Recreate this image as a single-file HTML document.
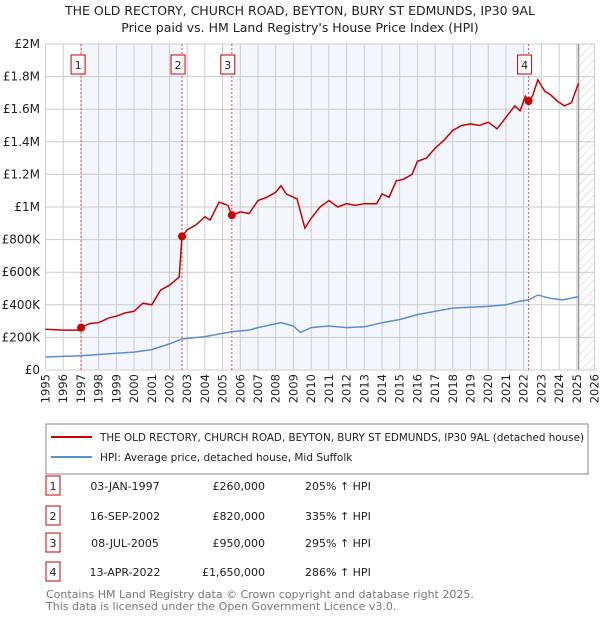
<!DOCTYPE html>
<html><head><meta charset="utf-8"><style>
body{margin:0;background:#fff;font-family:"Liberation Sans","DejaVu Sans",sans-serif;}
svg text{font-family:"DejaVu Sans","Liberation Sans",sans-serif;}
</style></head><body>
<svg id="c" width="600" height="620" xmlns="http://www.w3.org/2000/svg">
<defs><pattern id="hatch" width="6" height="6" patternUnits="userSpaceOnUse" patternTransform="rotate(45)"><line x1="0" y1="0" x2="0" y2="6" stroke="#ccc" stroke-width="1"/></pattern></defs>
<text x="300" y="15" text-anchor="middle" font-size="12.5" fill="#222">THE OLD RECTORY, CHURCH ROAD, BEYTON, BURY ST EDMUNDS, IP30 9AL</text>
<text x="300" y="32" text-anchor="middle" font-size="12.5" fill="#222">Price paid vs. HM Land Registry's House Price Index (HPI)</text>
<g id="plot"></g>
<rect x="46" y="424" width="542" height="50" fill="#fff" stroke="#888"/>
<line x1="51" y1="437" x2="92" y2="437" stroke="#cc0000" stroke-width="2"/>
<text x="100" y="441" font-size="10.5" textLength="484" lengthAdjust="spacingAndGlyphs" fill="#222">THE OLD RECTORY, CHURCH ROAD, BEYTON, BURY ST EDMUNDS, IP30 9AL (detached house)</text>
<line x1="51" y1="457" x2="92" y2="457" stroke="#5b8fd4" stroke-width="2"/>
<text x="100" y="461" font-size="10.5" fill="#222">HPI: Average price, detached house, Mid Suffolk</text>
<g id="table" font-size="11" fill="#222"></g>
<text x="46" y="598" font-size="11" fill="#777">Contains HM Land Registry data © Crown copyright and database right 2025.</text>
<text x="46" y="610" font-size="11" fill="#777">This data is licensed under the Open Government Licence v3.0.</text>
</svg>
<script>
const redYears=[1995,1996,1996.9,1997.0,1997.5,1998,1998.6,1999,1999.5,2000,2000.5,2001,2001.5,2002,2002.55,2002.71,2003,2003.5,2004,2004.3,2004.8,2005.3,2005.52,2006,2006.5,2007,2007.5,2008,2008.3,2008.6,2009.2,2009.45,2009.65,2010,2010.5,2011,2011.5,2012,2012.5,2013,2013.7,2014,2014.4,2014.8,2015.2,2015.7,2016,2016.5,2017,2017.5,2018,2018.5,2019,2019.5,2020,2020.5,2021,2021.5,2021.8,2022.1,2022.28,2022.5,2022.8,2023.2,2023.5,2023.9,2024.3,2024.7,2024.9,2025.1];
const redValues=[250,245,245,260,285,290,320,330,350,360,410,400,490,520,570,820,860,890,940,920,1030,1010,950,970,960,1040,1060,1090,1130,1080,1050,950,870,930,1000,1040,1000,1020,1010,1020,1020,1080,1060,1160,1170,1200,1280,1300,1360,1410,1470,1500,1510,1500,1520,1480,1550,1620,1590,1680,1650,1680,1780,1710,1690,1650,1620,1640,1700,1760];
const hpiYears=[1995,1997,1998,2000,2001,2002,2002.7,2004,2005.5,2006.5,2007,2008.3,2009,2009.4,2010,2011,2012,2013,2014,2015,2016,2017,2018,2019,2020,2021,2021.7,2022.3,2022.8,2023.5,2024.2,2025.1];
const hpiValues=[80,88,95,110,125,160,190,205,235,245,260,290,270,230,260,270,260,265,290,310,340,360,380,385,390,400,420,430,460,440,430,450];
const saleYears=[1997.01,2002.71,2005.52,2022.28];
const saleValues=[260,820,950,1650];
const saleLabels=["1","2","3","4"];
const saleDates=["03-JAN-1997","16-SEP-2002","08-JUL-2005","13-APR-2022"];
const salePrices=["£260,000","£820,000","£950,000","£1,650,000"];
const saleHpi=["205% ↑ HPI","335% ↑ HPI","295% ↑ HPI","286% ↑ HPI"];
const yTicks=[0,200,400,600,800,1000,1200,1400,1600,1800,2000];
const yTickLabels=["£0","£200K","£400K","£600K","£800K","£1M","£1.2M","£1.4M","£1.6M","£1.8M","£2M"];
const xTicks=[];for(let y=1995;y<=2026;y++)xTicks.push(y);

const NS="http://www.w3.org/2000/svg";
const X0=45.5,X1=594.5,Y0=370,Y1=44;
const xs=v=>X0+(v-1995)/(2026-1995)*(X1-X0);
const ys=v=>Y0-v/2000*(Y0-Y1);
const plot=document.getElementById('plot');
function mk(tag,attrs,parent){const e=document.createElementNS(NS,tag);for(const k in attrs)e.setAttribute(k,attrs[k]);(parent||plot).appendChild(e);return e;}
for(let i=0;i<saleYears.length;i+=2){
 const a=xs(saleYears[i]),b=i+1<saleYears.length?xs(saleYears[i+1]):xs(2025.1);
 const r=mk('rect',{x:a,y:Y1,width:b-a,height:Y0-Y1,fill:'#f3f6fd'});
 
 
}
const h=mk('rect',{x:xs(2025.1),y:Y1,width:X1-xs(2025.1),height:Y0-Y1,fill:'url(#hatch)'});


xTicks.forEach((t,i)=>{
 const l=mk('line',{x1:xs(t),x2:xs(t),y1:Y1,y2:Y0,stroke:'#ccc','stroke-width':1});
 
 
 const tx=mk('text',{x:0,y:0,'font-size':11.5,fill:'#222','text-anchor':'end',transform:`translate(${xs(t)+4},374) rotate(-90)`});
 tx.textContent=t;
 
 
});
yTicks.forEach((t,i)=>{
 const l=mk('line',{x1:X0,x2:X1,y1:ys(t),y2:ys(t),stroke:'#ccc','stroke-width':1});
 
 
 const tx=mk('text',{x:40,y:ys(t)+4,'font-size':12,fill:'#222','text-anchor':'end'});
 tx.textContent=yTickLabels[i];
 
 
});
const nl=mk('line',{x1:xs(2025.1),x2:xs(2025.1),y1:Y1,y2:Y0,stroke:'#999','stroke-width':1.5});


saleYears.forEach((s,i)=>{
 const l=mk('line',{x1:xs(s),x2:xs(s),y1:Y1,y2:Y0,stroke:'#e05050','stroke-width':1,'stroke-dasharray':'2,2'});
 
 
 const bx=xs(s)-(i===0?3:4);
 const r=mk('rect',{x:bx-7,y:55,width:14,height:19,fill:'#fff',stroke:'#cc0000'});
 
 
 const t=mk('text',{x:bx,y:69,'font-size':11,'text-anchor':'middle',fill:'#222'});
 t.textContent=saleLabels[i];
 
 
});
const path=(xsA,vs)=>xsA.map((x,i)=>(i?'L':'M')+xs(x).toFixed(1)+','+ys(vs[i]).toFixed(1)).join('');
const hp=mk('path',{d:path(hpiYears,hpiValues),fill:'none',stroke:'#5b8fd4','stroke-width':1.5});


const rp=mk('path',{d:path(redYears,redValues),fill:'none',stroke:'#cc0000','stroke-width':1.5});


saleYears.forEach((s,i)=>{
 const c=mk('circle',{cx:xs(s),cy:ys(saleValues[i]),r:4,fill:'#cc0000'});
 
 
});
const tb=document.getElementById('table');
const rowY=[488,518,545,574];
saleLabels.forEach((l,i)=>{
 const y=rowY[i];
 const r=mk('rect',{x:46,y:y-12,width:14,height:19,fill:'#fff',stroke:'#cc0000'},tb);
 
 
 const vals=[[53,'middle',l],[125,'middle',saleDates[i]],[265,'end',salePrices[i]],[305,'start',saleHpi[i]]];
 vals.forEach(v=>{const t=mk('text',{x:v[0],y:y+2,'text-anchor':v[1],'font-size':11,fill:'#222'},tb);t.textContent=v[2];
  
  });
});
</script>
</body></html>
